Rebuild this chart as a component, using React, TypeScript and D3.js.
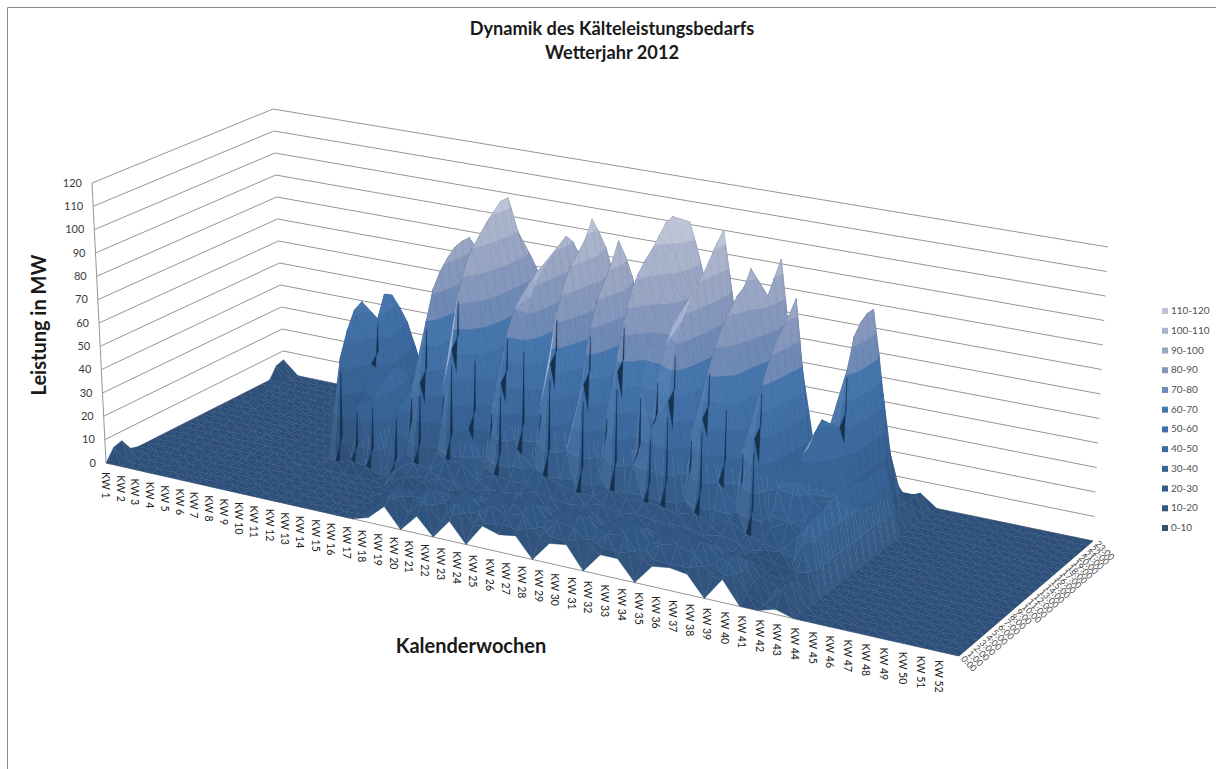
import React, { useMemo } from "react";
import * as d3 from "d3";

// ---------- data ----------
const title = ["Dynamik des Kälteleistungsbedarfs", "Wetterjahr 2012"];
const weeks = d3.range(1, 53).map((w) => `KW ${w}`);
const hours = d3.range(0, 24).map((h) => `${h}:00`);
const levels = [0, 10, 20, 30, 40, 50, 60, 70, 80, 90, 100, 110, 120];
const bandColors = [
  "#2e5079", "#315682", "#345c8b", "#386395", "#3c6a9e", "#416fa6", "#4676ad",
  "#6f8ab6", "#8597bc", "#98a5c3", "#a9b3cc", "#bcc4d6",
];
const zeroWeek = [0, 0, 0, 0, 0, 0, 0, 0, 0, 0, 0, 0, 0, 0, 0, 0, 0, 0, 0, 0, 0, 0, 0, 0];
const load: number[][] = [
  [0, 5, 6, 1, 0, 0, 0, 0, 0, 0, 0, 0, 0, 0, 0, 0, 0, 0, 0, 0, 0, 0, 5, 6],
  zeroWeek, zeroWeek, zeroWeek, zeroWeek, zeroWeek, zeroWeek, zeroWeek, zeroWeek, zeroWeek, zeroWeek,
  [0, 0, 0, 0, 0, 0, 0, 0, 2, 45, 55, 62, 64, 40, 25, 16, 10, 4, 0, 0, 0, 0, 0, 0],
  [0, 0, 0, 0, 0, 0, 0, 0, 4, 26, 30, 40, 58, 67, 65, 58, 50, 38, 26, 14, 4, 0, 0, 0],
  [0, 0, 0, 0, 0, 0, 0, 0, 3, 30, 34, 36, 38, 36, 30, 24, 16, 9, 4, 1, 0, 0, 0, 0],
  zeroWeek,
  [0, 0, 0, 0, 0, 0, 0, 4, 30, 32, 32, 30, 26, 20, 14, 8, 3, 0, 0, 0, 0, 0, 0, 0],
  [0, 0, 0, 0, 3, 6, 10, 14, 40, 44, 45, 42, 35, 25, 18, 10, 4, 0, 0, 0, 0, 0, 0, 0],
  [2, 6, 8, 6, 6, 10, 14, 45, 70, 82, 88, 92, 95, 96, 96, 90, 74, 40, 22, 14, 8, 5, 3, 1],
  [8, 12, 14, 10, 8, 9, 12, 18, 44, 48, 50, 52, 54, 55, 54, 50, 44, 30, 13, 9, 6, 4, 2, 1],
  [0, 5, 10, 10, 9, 12, 18, 62, 84, 94, 100, 104, 108, 111, 114, 114, 100, 65, 32, 18, 10, 6, 4, 2],
  [7, 12, 16, 13, 10, 12, 18, 30, 62, 74, 80, 84, 87, 89, 90, 91, 88, 80, 42, 15, 8, 4, 2, 1],
  [0, 4, 9, 8, 7, 9, 12, 16, 40, 44, 46, 48, 50, 51, 52, 50, 46, 42, 26, 11, 7, 4, 2, 0],
  [8, 14, 18, 14, 11, 12, 16, 52, 72, 80, 84, 87, 90, 92, 94, 95, 84, 56, 24, 14, 8, 4, 2, 1],
  [0, 6, 11, 10, 9, 12, 15, 26, 72, 86, 92, 96, 99, 101, 104, 100, 92, 55, 18, 11, 6, 3, 2, 1],
  [9, 16, 20, 16, 12, 13, 15, 20, 44, 48, 50, 52, 54, 56, 58, 56, 50, 38, 14, 9, 6, 3, 2, 1],
  [7, 13, 16, 13, 12, 15, 20, 64, 84, 94, 100, 104, 108, 115, 108, 100, 88, 50, 20, 12, 7, 4, 2, 1],
  [8, 15, 20, 16, 13, 14, 18, 30, 40, 50, 60, 64, 68, 70, 72, 66, 50, 34, 20, 12, 7, 4, 2, 1],
  [0, 7, 12, 11, 10, 13, 16, 58, 80, 90, 96, 102, 110, 102, 92, 76, 58, 34, 20, 12, 7, 4, 2, 1],
  [8, 15, 19, 15, 12, 14, 16, 22, 48, 52, 54, 56, 58, 60, 60, 58, 50, 36, 18, 12, 7, 4, 2, 1],
  [9, 14, 18, 15, 13, 16, 20, 66, 86, 96, 102, 106, 109, 113, 117, 118, 92, 60, 32, 18, 10, 5, 3, 1],
  [0, 8, 13, 12, 10, 14, 18, 30, 60, 76, 86, 94, 100, 106, 112, 117, 106, 60, 30, 16, 8, 4, 2, 1],
  [8, 14, 18, 15, 12, 15, 18, 46, 66, 76, 82, 86, 88, 90, 92, 90, 80, 36, 20, 12, 7, 4, 2, 1],
  [8, 16, 21, 17, 13, 14, 18, 58, 78, 88, 94, 98, 102, 107, 112, 116, 96, 60, 18, 12, 7, 4, 2, 1],
  [0, 7, 12, 11, 10, 14, 16, 20, 46, 50, 54, 56, 56, 58, 58, 56, 50, 40, 22, 15, 8, 4, 2, 1],
  [8, 15, 19, 15, 12, 14, 18, 54, 74, 82, 88, 92, 96, 98, 104, 70, 50, 30, 18, 11, 6, 3, 2, 1],
  [9, 16, 20, 16, 12, 12, 14, 30, 62, 72, 76, 78, 82, 88, 94, 100, 106, 60, 20, 12, 7, 4, 2, 1],
  [8, 14, 18, 15, 12, 14, 18, 22, 44, 48, 50, 52, 54, 55, 56, 54, 50, 30, 18, 11, 6, 3, 2, 1],
  [0, 7, 12, 11, 9, 12, 14, 50, 70, 78, 84, 88, 92, 97, 70, 42, 26, 18, 12, 8, 5, 3, 2, 1],
  [9, 14, 16, 12, 9, 9, 12, 16, 30, 32, 34, 34, 36, 35, 30, 22, 18, 14, 10, 7, 4, 3, 2, 0],
  [0, 3, 6, 6, 5, 7, 10, 20, 35, 40, 44, 49, 52, 45, 30, 16, 10, 7, 5, 3, 2, 1, 1, 0],
  [0, 0, 2, 3, 4, 6, 18, 22, 28, 33, 39, 43, 50, 72, 84, 88, 90, 90, 72, 52, 30, 14, 6, 2],
  [2, 8, 10, 8, 18, 28, 28, 27, 29, 30, 30, 30, 29, 28, 28, 28, 28, 27, 8, 6, 6, 5, 6, 5],
  zeroWeek, zeroWeek, zeroWeek, zeroWeek, zeroWeek, zeroWeek, zeroWeek, zeroWeek, zeroWeek, zeroWeek,
];

// ---------- projection ----------
type P = [number, number];
type Q = [number, number, number]; // u, v, value
const floorQuad: P[] = [[106, 463], [959, 656], [1093, 541], [284, 373]];
const topQuad: P[] = [[92, 183], [971, 341], [1108, 247], [273, 109]];

function homography(q: P[]) {
  const [[x0, y0], [x1, y1], [x2, y2], [x3, y3]] = q;
  const dx1 = x1 - x2, dx2 = x3 - x2, sx = x0 - x1 + x2 - x3;
  const dy1 = y1 - y2, dy2 = y3 - y2, sy = y0 - y1 + y2 - y3;
  const den = dx1 * dy2 - dx2 * dy1;
  const g = (sx * dy2 - dx2 * sy) / den;
  const h = (dx1 * sy - sx * dy1) / den;
  const a = x1 - x0 + g * x1, b = x3 - x0 + h * x3;
  const d = y1 - y0 + g * y1, e = y3 - y0 + h * y3;
  return (u: number, v: number): P => {
    const w = 1 + g * u + h * v;
    return [(a * u + b * v + x0) / w, (d * u + e * v + y0) / w];
  };
}
const floorH = homography(floorQuad);
const topH = homography(topQuad);
const uScale = d3.scalePoint<string>().domain(weeks).range([0, 1]);
const vScale = d3.scalePoint<string>().domain(hours).range([0, 1]);
const zScale = d3.scaleLinear().domain([0, 120]).range([0, 1]);

function project(u: number, v: number, value: number): P {
  const f = floorH(u, v), t = topH(u, v), k = zScale(value);
  return [f[0] + (t[0] - f[0]) * k, f[1] + (t[1] - f[1]) * k];
}

function clipBand(poly: Q[], lo: number, hi: number): Q[] {
  const clip = (pts: Q[], limit: number, keepAbove: boolean) => {
    const out: Q[] = [];
    pts.forEach((a, i) => {
      const b = pts[(i + 1) % pts.length];
      const ina = keepAbove ? a[2] >= limit : a[2] <= limit;
      const inb = keepAbove ? b[2] >= limit : b[2] <= limit;
      if (ina) out.push(a);
      if (ina !== inb) {
        const s = (limit - a[2]) / (b[2] - a[2]);
        out.push([a[0] + (b[0] - a[0]) * s, a[1] + (b[1] - a[1]) * s, limit]);
      }
    });
    return out;
  };
  let r = clip(poly, lo, true);
  if (r.length) r = clip(r, hi, false);
  return r;
}

const lineGen = d3.line<P>().x((d) => d[0]).y((d) => d[1]);

function shade(color: string, tri: Q[]): string {
  const [a, b, c] = tri;
  const sa = project(a[0], a[1], a[2]), sb = project(b[0], b[1], b[2]), sc = project(c[0], c[1], c[2]);
  const area = (sb[0] - sa[0]) * (sc[1] - sa[1]) - (sb[1] - sa[1]) * (sc[0] - sa[0]);
  // facing away from the viewer: the dark underside of the sheet
  if (area < 0) return d3.interpolateRgb(color, "#142a44")(0.55);
  const ux = (b[0] - a[0]) * 51, uy = (b[1] - a[1]) * 34, uz = (b[2] - a[2]) / 12;
  const vx = (c[0] - a[0]) * 51, vy = (c[1] - a[1]) * 34, vz = (c[2] - a[2]) / 12;
  let nx = uy * vz - uz * vy, ny = uz * vx - ux * vz, nz = ux * vy - uy * vx;
  const len = Math.hypot(nx, ny, nz) || 1;
  nx /= len; ny /= len; nz /= len;
  if (nz < 0) { nx = -nx; ny = -ny; nz = -nz; }
  const left = Math.max(0, -nx - 0.25);
  const top = Math.max(a[2], b[2], c[2]);
  if (top < 45) {
    // low sloping faces are lit a little brighter than the flat floor
    return d3.interpolateRgb(color, "#4b82bc")(0.32 * (1 - nz));
  }
  const glint = Math.abs(area) < 260 ? left * 0.9 : Math.min(0.08, left * 0.3);
  return d3.interpolateRgb(color, "#d5e4f6")(glint);
}

function buildSurface() {
  const out: { d: string; fill: string }[] = [];
  for (let h = hours.length - 2; h >= 0; h--) {
    for (let w = 0; w < weeks.length - 1; w++) {
      const u0 = uScale(weeks[w])!, u1 = uScale(weeks[w + 1])!;
      const v0 = vScale(hours[h])!, v1 = vScale(hours[h + 1])!;
      const A: Q = [u0, v0, load[w][h]], B: Q = [u1, v0, load[w + 1][h]];
      const C: Q = [u1, v1, load[w + 1][h + 1]], D: Q = [u0, v1, load[w][h + 1]];
      const tris: Q[][] = [[D, C, B], [D, B, A]];
      tris.forEach((tri) => {
        bandColors.forEach((col, i) => {
          const poly = clipBand(tri, levels[i], levels[i + 1]);
          if (poly.length < 3) return;
          const pts = poly.map((p) => project(p[0], p[1], p[2]));
          out.push({ d: lineGen(pts)! + "Z", fill: shade(col, tri) });
        });
      });
      // a sudden rise from one hour to the next shows as a dark slit
      if (D[2] - A[2] >= 18) {
        const base = project(A[0], A[1], A[2]);
        const baseR = project(A[0] + (B[0] - A[0]) * 0.28, A[1], A[2] + (B[2] - A[2]) * 0.28);
        const tip = project(D[0], D[1], A[2] + (D[2] - A[2]) * 0.85);
        const midL = project(D[0], D[1], A[2] + (D[2] - A[2]) * 0.22);
        out.push({ d: lineGen([base, baseR, tip, midL])! + "Z", fill: "#16304e" });
      }
    }
  }
  return out;
}

const FONT = "Lato, 'Open Sans', sans-serif";

export default function App() {
  const polys = useMemo(buildSurface, []);
  return (
    <svg width={1216} height={769} style={{ position: "fixed", left: 0, top: 0, background: "#fff" }} fontFamily={FONT}>
      <defs>
        <filter id="soft" x="0" y="0" width="1" height="1" filterUnits="objectBoundingBox">
          <feGaussianBlur stdDeviation="0.45" />
        </filter>
      </defs>
      <path d="M7.5 769V7.5H1216" fill="none" stroke="#8a8a8a" />
      {title.map((t, i) => (
        <text key={t} x={612} y={35 + i * 24} textAnchor="middle" fontWeight={700} fontSize={18.2} fill="#1a1a1a">{t}</text>
      ))}
      <g stroke="#969696" fill="none" strokeWidth={1}>
        {levels.map((l) => (
          <path key={l} d={lineGen([project(0, 0, l), project(0, 1, l), project(1, 1, l)])!} />
        ))}
        <path d={lineGen([project(0, 0, 0), project(0, 0, 120)])!} />
        <path d={lineGen([project(0, 0, 0), project(1, 0, 0), project(1, 1, 0)])!} />
      </g>
      <g filter="url(#soft)">
        {polys.map((p, i) => (
          <path key={i} d={p.d} fill={p.fill} stroke={p.fill} strokeWidth={0.4} />
        ))}
      </g>
      {levels.map((l) => {
        const [x, y] = project(0, 0, l);
        return (
          <text key={l} x={x - 10} y={y + 1} textAnchor="end" dominantBaseline="middle" fontSize={11} fill="#3a3a3a">{l}</text>
        );
      })}
      {weeks.map((w) => {
        const u = uScale(w)!;
        const [x, y] = project(u, 0, 0);
        return (
          <text key={w} transform={`translate(${x - 1 - 20 * u},${y + 9 - 5 * u}) rotate(90)`} dominantBaseline="middle" fontSize={10.5} fill="#222">{w}</text>
        );
      })}
      {hours.map((h) => {
        const [x, y] = project(1, vScale(h)!, 0);
        return (
          <text key={h} transform={`translate(${x + 3},${y + 2}) rotate(45)`} dominantBaseline="middle" fontSize={9} fill="#444">{h}</text>
        );
      })}
      <text transform="translate(46,325) rotate(-90)" textAnchor="middle" fontWeight={700} fontSize={20} fill="#1a1a1a">Leistung in MW</text>
      <text x={471} y={653} textAnchor="middle" fontWeight={700} fontSize={20} fill="#1a1a1a">Kalenderwochen</text>
      {bandColors.map((c, i) => {
        const y = 528 - i * 19.72;
        return (
          <g key={c}>
            <rect x={1162} y={y - 3} width={6} height={6} fill={c} />
            <text x={1171} y={y + 0.5} dominantBaseline="middle" fontSize={10} fill="#505050">{`${levels[i]}-${levels[i + 1]}`}</text>
          </g>
        );
      })}
    </svg>
  );
}
